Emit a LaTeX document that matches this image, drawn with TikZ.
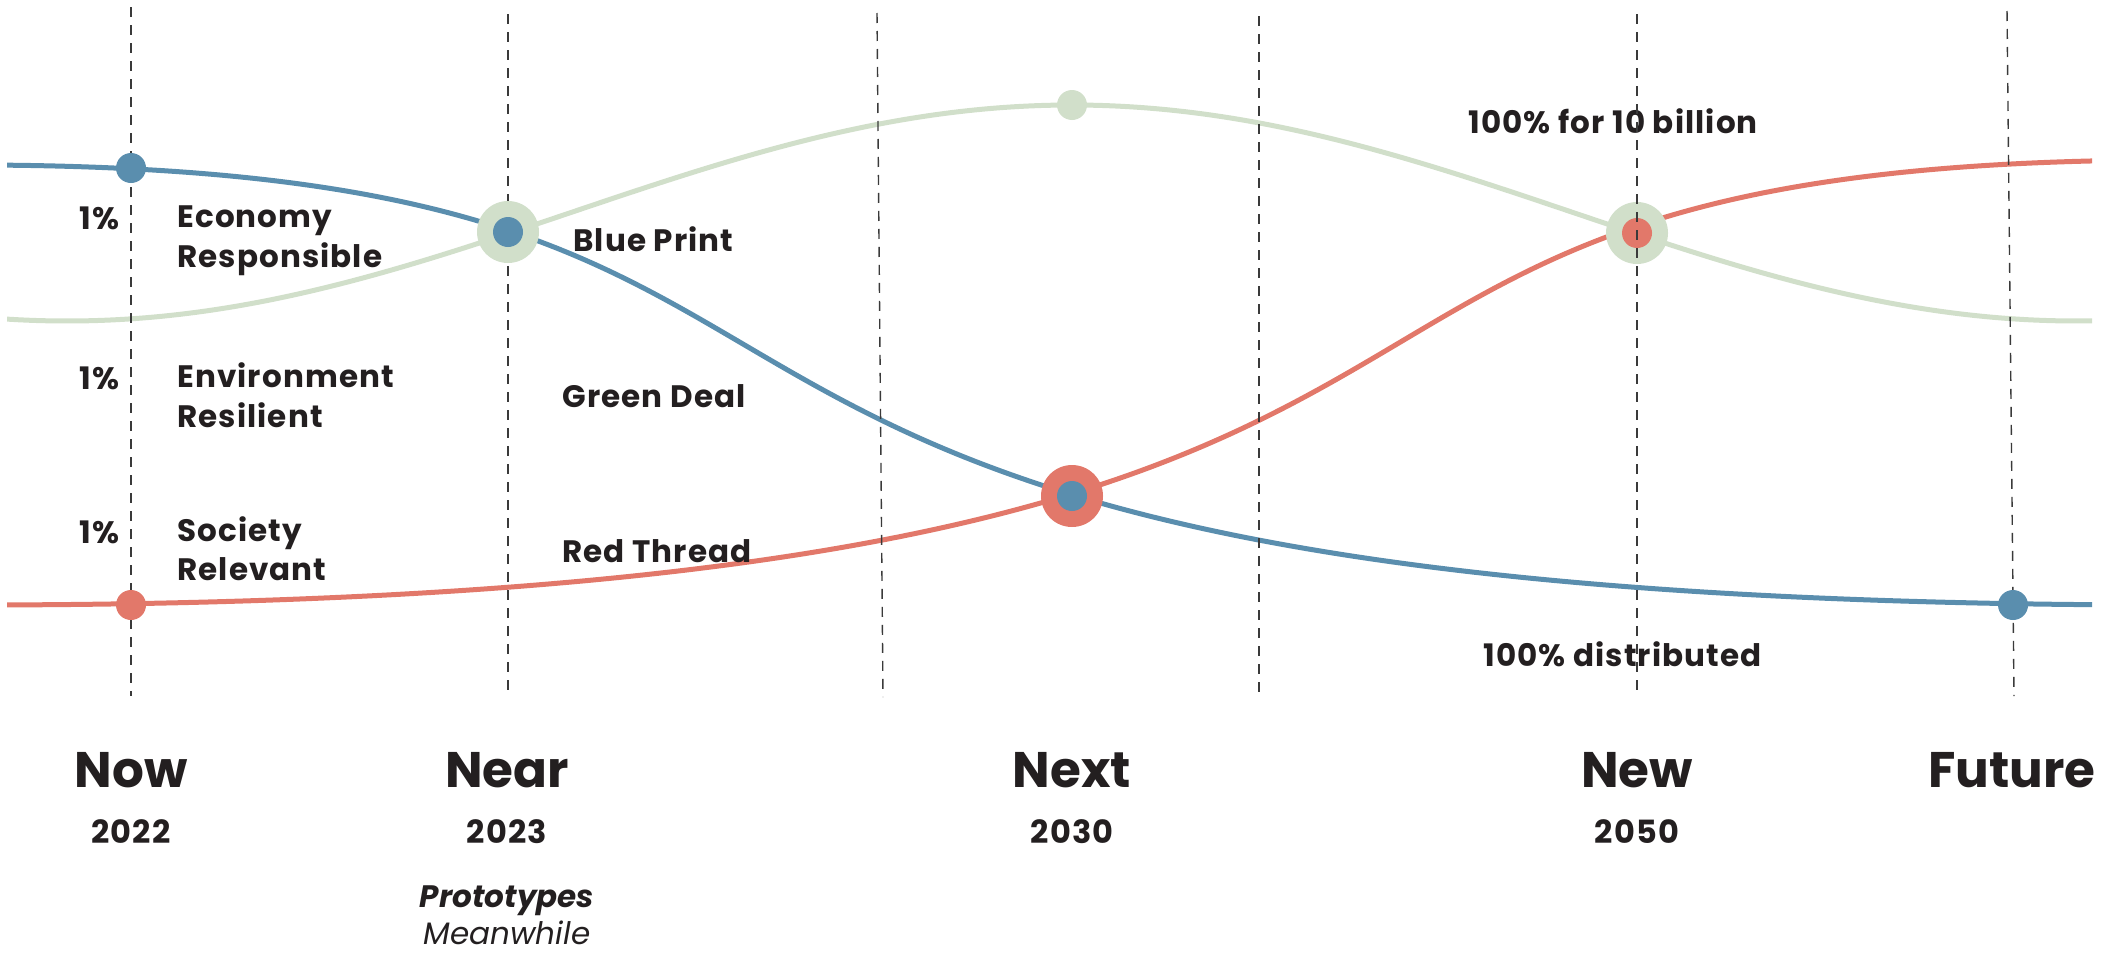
\documentclass[tikz,border=0pt]{standalone}
\usepackage{fontspec}
\setmainfont{Poppins}
\newfontfamily\lblfont[LetterSpace=3.5]{Poppins}
\definecolor{bluec}{HTML}{5A8EAE}
\definecolor{redc}{HTML}{E2786A}
\definecolor{greenc}{HTML}{D1DFCA}
\definecolor{ink}{HTML}{231F20}
\definecolor{guidegray}{HTML}{3A3A3A}
\begin{document}
\begin{tikzpicture}[x=0.5pt,y=-0.5pt,
  guide/.style={draw=guidegray, line width=0.7pt, dash pattern=on 5pt off 4pt},
  curve/.style={line width=2.5pt},
  dot/.style={circle, inner sep=0pt, minimum size=15pt},
  ring/.style={circle, inner sep=0pt, minimum size=31pt},
  lbl/.style={font=\lblfont\bfseries\fontsize{15.5}{19.8}\selectfont, text=ink, align=left, anchor=west, inner sep=0pt},
  pct/.style={font=\lblfont\bfseries\fontsize{15.5}{19.8}\selectfont, text=ink, anchor=east, inner sep=0pt},
  era/.style={font=\bfseries\fontsize{25}{30}\selectfont, text=ink, inner sep=0pt},
  yr/.style={font=\lblfont\bfseries\fontsize{16}{20}\selectfont, text=ink, inner sep=0pt},
  note/.style={font=\fontsize{15.5}{19.5}\selectfont, text=ink, inner sep=0pt, anchor=base}]
\useasboundingbox (0,0) rectangle (2118,953);

% curves
\begin{scope}
\clip (7,0) rectangle (2092,953);
\draw[greenc, curve] plot[domain=7:2092, samples=180, smooth] (\x, {213-108*cos(0.1791*(\x-1072))});
\coordinate (bL) at (-30,165);
\coordinate (bC1) at (1038,165);
\coordinate (bC2) at (418,605);
\coordinate (bR) at (2175,605);
\draw[bluec, curve] (bL) .. controls (bC1) and (bC2) .. (bR);
\coordinate (rL) at (-30,605);
\coordinate (rC1) at (1727,605);
\coordinate (rC2) at (1107,160);
\coordinate (rR) at (2175,160);
\draw[redc, curve] (rL) .. controls (rC1) and (rC2) .. (rR);
\end{scope}

% labels
\node[pct] (p1) at (120,218) {1\%};
\node[pct] (p2) at (120,378) {1\%};
\node[pct] (p3) at (120,532) {1\%};
\node[lbl] (econ) at (177,240.5) {Economy\\Responsible};
\node[lbl] (env) at (177,395.5) {Environment\\Resilient};
\node[lbl] (soc) at (177,548.5) {Society\\Relevant};
\node[lbl] (bp) at (573,239) {Blue Print};
\node[lbl] (gd) at (562,396) {Green Deal};
\node[lbl] (rt) at (562,551) {Red Thread};
\node[lbl] (tenb) at (1468,121) {100\% for 10 billion};
\node[lbl] (dist) at (1483,654) {100\% distributed};

\node[era] (now) at (131,770) {Now};
\node[era] (near) at (507,770) {Near};
\node[era] (next) at (1072,770) {Next};
\node[era] (new) at (1637,770) {New};
\node[era] (fut) at (2012,770) {Future};
\node[yr] (y22) at (131,832) {2022};
\node[yr] (y23) at (507,832) {2023};
\node[yr] (y30) at (1072,832) {2030};
\node[yr] (y50) at (1637,832) {2050};
\node[note, font=\bfseries\itshape\fontsize{15.5}{19.5}\selectfont] (proto) at (507,907) {Prototypes};
\node[note, font=\itshape\fontsize{15.5}{19.5}\selectfont] (mean) at (507,944) {Meanwhile};

% New ring (under its dashed line)
\node[ring, fill=greenc] (newRing) at (1637,233) {};
\node[dot, fill=redc] (newDot) at (newRing) {};

% dashed guides
\coordinate (g1t) at (131,7);   \coordinate (g1b) at (131,696);
\coordinate (g2t) at (508,14);  \coordinate (g2b) at (508,696);
\coordinate (g3t) at (877,13);  \coordinate (g3b) at (883,697);
\coordinate (g4t) at (1259,16); \coordinate (g4b) at (1259,696);
\coordinate (g5t) at (1637,14); \coordinate (g5b) at (1637,696);
\coordinate (g6t) at (2007,11); \coordinate (g6b) at (2014,696);
\draw[guide] (g1t) -- (g1b);
\draw[guide] (g2t) -- (g2b);
\draw[guide] (g3t) -- (g3b);
\draw[guide] (g4t) -- (g4b);
\draw[guide] (g5t) -- (g5b);
\draw[guide] (g6t) -- (g6b);

% dots
\node[dot, fill=bluec] (nowB) at (131,168) {};
\node[dot, fill=redc] (nowR) at (131,605) {};
\node[ring, fill=greenc] (nearRing) at (508,232) {};
\node[dot, fill=bluec] (nearDot) at (nearRing) {};
\node[ring, fill=redc] (nextRing) at (1072,496) {};
\node[dot, fill=bluec] (nextDot) at (nextRing) {};
\node[dot, fill=greenc] (peak) at (1072,105) {};
\node[dot, fill=bluec] (futB) at (2013,605) {};
\end{tikzpicture}
\end{document}
